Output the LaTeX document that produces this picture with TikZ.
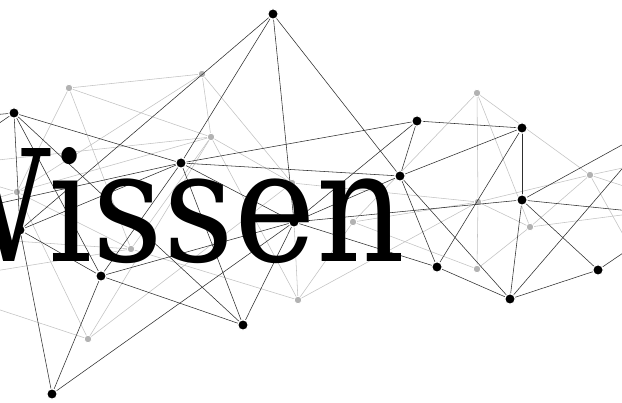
\documentclass[tikz,border=0pt]{standalone}
\usepackage{fontspec}
\newfontfamily\wfont[FakeStretch=0.89]{DejaVu Serif}
\tikzset{
  bl/.style={draw=black!82, line width=0.55pt},
  gl/.style={draw=black!24, line width=0.55pt},
  bdot/.style={circle, fill=black, draw=white, line width=1.2pt, inner sep=0pt, minimum size=10.5pt},
  gdot/.style={circle, fill=black!30, draw=white, line width=0.8pt, inner sep=0pt, minimum size=7.5pt},
  word/.style={font=\wfont\fontsize{155}{155}\selectfont, anchor=base west, inner sep=0pt, text=black}
}
\begin{document}
\begin{tikzpicture}[x=1pt,y=-1pt]
\useasboundingbox (0,0) rectangle (622,403);
\fill[white] (0,0) rectangle (622,403);
\clip (0,0) rectangle (622,403);
% black network points
\coordinate (A) at (273,14);
\coordinate (B) at (14,113);
\coordinate (C) at (181,163);
\coordinate (D) at (417,121);
\coordinate (E) at (522,128);
\coordinate (F) at (400,176);
\coordinate (G) at (522,200);
\coordinate (H) at (20,230);
\coordinate (I) at (101,276);
\coordinate (J) at (294,222);
\coordinate (K) at (243,325);
\coordinate (L) at (52,394);
\coordinate (M) at (437,267);
\coordinate (N) at (510,299);
\coordinate (O) at (598,270);
\coordinate (bL1) at (-40,118);
\coordinate (bL2) at (-40,150);
\coordinate (cL) at (-40,212);
\coordinate (rG1) at (660,124);
\coordinate (rG2) at (660,214);
\coordinate (rN) at (640,148);
\coordinate (rO) at (660,228);
% gray network points
\coordinate (g1) at (69,88);
\coordinate (g2) at (202,74);
\coordinate (g3) at (211,137);
\coordinate (g4) at (477,93);
\coordinate (g5) at (590,175);
\coordinate (g6) at (292,183);
\coordinate (g7) at (478,202);
\coordinate (g8) at (530,227);
\coordinate (g9) at (353,222);
\coordinate (g10) at (298,300);
\coordinate (g11) at (477,269);
\coordinate (g12) at (131,249);
\coordinate (g13) at (88,339);
\coordinate (g14) at (17,192);
\coordinate (q1) at (-30,163);
\coordinate (q2) at (-30,178);
\coordinate (q3) at (-30,206);
\coordinate (q4) at (-30,238);
\coordinate (q5) at (-30,275);
\coordinate (q6) at (-30,300);
\coordinate (r1) at (660,160);
\coordinate (r2) at (660,198);
\coordinate (r3) at (640,265);
\coordinate (r4) at (660,210);
% gray edges
\foreach \a/\b in {g1/g2,g1/g3,g1/g14,g1/g12,g2/g3,g2/g6,g2/g14,g3/g6,g3/g10,g3/g14,g3/g13,g3/g12,g3/q1,
  g4/g7,g7/g11,g4/g5,g4/g9,g4/g8,g5/g7,g5/g8,g5/r1,g5/r2,g5/r3,g6/g7,g6/g10,g7/g8,g7/g10,g7/g9,
  g8/g11,g8/r4,g9/g10,g9/g11,g10/g12,g12/g14,g12/q4,g12/q5,g13/q6,g13/g14,g13/g6,g14/q2,g14/q3}
  \draw[gl] (\a) -- (\b);
\foreach \p in {g1,g2,g3,g4,g5,g6,g7,g8,g9,g10,g11,g12,g13,g14}
  \node[gdot] (d\p) at (\p) {};
% black edges
\foreach \a/\b in {A/H,A/C,A/J,A/F,B/C,B/H,B/K,B/I,B/bL1,B/bL2,C/D,C/F,C/J,C/K,C/I,C/cL,C/H,
  D/E,D/F,D/J,E/F,E/G,E/M,F/J,F/M,F/N,G/N,G/O,G/J,G/rG1,G/rG2,H/I,H/L,I/J,I/K,I/L,
  J/K,J/L,J/M,M/N,N/O,N/rN,O/rO}
  \draw[bl] (\a) -- (\b);
\foreach \p in {A,B,C,D,E,F,G,H,I,J,K,L,M,N,O}
  \node[bdot] (d\p) at (\p) {};
% word on top
\node[word] (w) at (-91,262) {Wissen};
\end{tikzpicture}
\end{document}
